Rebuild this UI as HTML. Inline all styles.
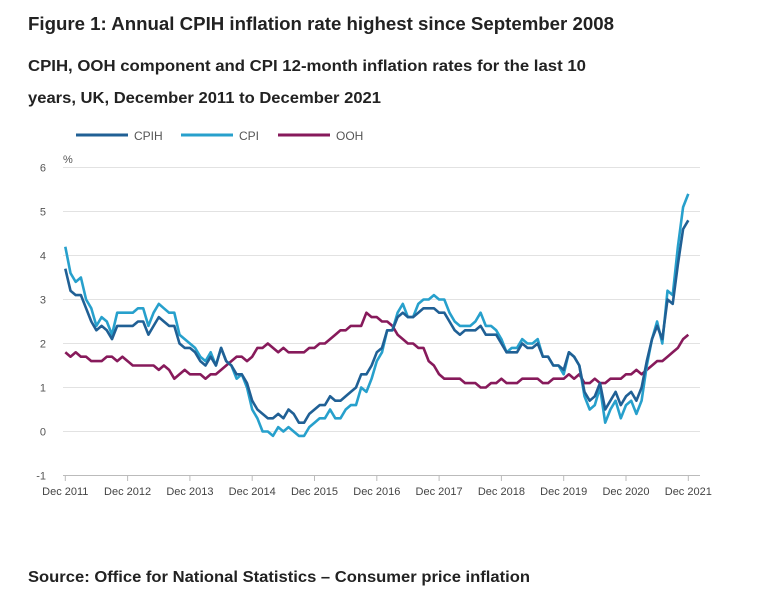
<!DOCTYPE html>
<html><head><meta charset="utf-8"><style>
body{margin:0;background:#fff;font-family:"Liberation Sans",sans-serif;}
svg{display:block}
</style></head><body>
<svg id="chart" width="773" height="591">
<text x="28" y="30" font-size="18" font-weight="bold" fill="#222" textLength="586" lengthAdjust="spacingAndGlyphs">Figure 1: Annual CPIH inflation rate highest since September 2008</text>
<text x="28" y="71" font-size="15.5" font-weight="bold" fill="#222" textLength="558" lengthAdjust="spacingAndGlyphs">CPIH, OOH component and CPI 12-month inflation rates for the last 10</text>
<text x="28" y="103" font-size="15.5" font-weight="bold" fill="#222" textLength="353" lengthAdjust="spacingAndGlyphs">years, UK, December 2011 to December 2021</text>
<g>
<line x1="76" y1="135" x2="128" y2="135" stroke="#206095" stroke-width="3"/>
<text x="134" y="140" font-size="12" fill="#555">CPIH</text>
<line x1="181" y1="135" x2="233" y2="135" stroke="#27a0cc" stroke-width="3"/>
<text x="239" y="140" font-size="12" fill="#555">CPI</text>
<line x1="278" y1="135" x2="330" y2="135" stroke="#871a5b" stroke-width="3"/>
<text x="336" y="140" font-size="12" fill="#555">OOH</text>
</g>
<text x="63" y="163" font-size="11" fill="#555">%</text>
<g id="grid"></g><g id="lines"></g>
<text x="28" y="582" font-size="15.5" font-weight="bold" fill="#222" textLength="502" lengthAdjust="spacingAndGlyphs">Source: Office for National Statistics – Consumer price inflation</text>
</svg>
<script>
const yTicks=[6,5,4,3,2,1,0,-1];
const xTickLabels=["Dec 2011","Dec 2012","Dec 2013","Dec 2014","Dec 2015","Dec 2016","Dec 2017","Dec 2018","Dec 2019","Dec 2020","Dec 2021"];
const cpih=[3.7,3.2,3.1,3.1,2.8,2.5,2.3,2.4,2.3,2.1,2.4,2.4,2.4,2.4,2.5,2.5,2.2,2.4,2.6,2.5,2.4,2.4,2.0,1.9,1.9,1.8,1.6,1.5,1.7,1.5,1.9,1.6,1.5,1.3,1.3,1.1,0.7,0.5,0.4,0.3,0.3,0.4,0.3,0.5,0.4,0.2,0.2,0.4,0.5,0.6,0.6,0.8,0.7,0.7,0.8,0.9,1.0,1.3,1.3,1.5,1.8,1.9,2.3,2.3,2.6,2.7,2.6,2.6,2.7,2.8,2.8,2.8,2.7,2.7,2.5,2.3,2.2,2.3,2.3,2.3,2.4,2.2,2.2,2.2,2.0,1.8,1.8,1.8,2.0,1.9,1.9,2.0,1.7,1.7,1.5,1.5,1.4,1.8,1.7,1.5,0.9,0.7,0.8,1.1,0.5,0.7,0.9,0.6,0.8,0.9,0.7,1.0,1.6,2.1,2.4,2.1,3.0,2.9,3.8,4.6,4.8];
const cpi=[4.2,3.6,3.4,3.5,3.0,2.8,2.4,2.6,2.5,2.2,2.7,2.7,2.7,2.7,2.8,2.8,2.4,2.7,2.9,2.8,2.7,2.7,2.2,2.1,2.0,1.9,1.7,1.6,1.8,1.5,1.9,1.6,1.5,1.2,1.3,1.0,0.5,0.3,0.0,0.0,-0.1,0.1,0.0,0.1,0.0,-0.1,-0.1,0.1,0.2,0.3,0.3,0.5,0.3,0.3,0.5,0.6,0.6,1.0,0.9,1.2,1.6,1.8,2.3,2.3,2.7,2.9,2.6,2.6,2.9,3.0,3.0,3.1,3.0,3.0,2.7,2.5,2.4,2.4,2.4,2.5,2.7,2.4,2.4,2.3,2.1,1.8,1.9,1.9,2.1,2.0,2.0,2.1,1.7,1.7,1.5,1.5,1.3,1.8,1.7,1.5,0.8,0.5,0.6,1.0,0.2,0.5,0.7,0.3,0.6,0.7,0.4,0.7,1.5,2.1,2.5,2.0,3.2,3.1,4.2,5.1,5.4];
const ooh=[1.8,1.7,1.8,1.7,1.7,1.6,1.6,1.6,1.7,1.7,1.6,1.7,1.6,1.5,1.5,1.5,1.5,1.5,1.4,1.5,1.4,1.2,1.3,1.4,1.3,1.3,1.3,1.2,1.3,1.3,1.4,1.5,1.6,1.7,1.7,1.6,1.7,1.9,1.9,2.0,1.9,1.8,1.9,1.8,1.8,1.8,1.8,1.9,1.9,2.0,2.0,2.1,2.2,2.3,2.3,2.4,2.4,2.4,2.7,2.6,2.6,2.5,2.5,2.4,2.2,2.1,2.0,2.0,1.9,1.9,1.6,1.5,1.3,1.2,1.2,1.2,1.2,1.1,1.1,1.1,1.0,1.0,1.1,1.1,1.2,1.1,1.1,1.1,1.2,1.2,1.2,1.2,1.1,1.1,1.2,1.2,1.2,1.3,1.2,1.3,1.1,1.1,1.2,1.1,1.1,1.2,1.2,1.2,1.3,1.3,1.4,1.3,1.4,1.5,1.6,1.6,1.7,1.8,1.9,2.1,2.2];
const NS="http://www.w3.org/2000/svg";
const x0=65.3,x1=688.3,nM=120;
function xs(i){return x0+(x1-x0)*i/nM;}
function ys(v){return 431.5-v*44;}
const grid=document.getElementById('grid');
yTicks.forEach(t=>{
  const l=document.createElementNS(NS,'line');
  l.setAttribute('x1',63);l.setAttribute('x2',700);l.setAttribute('y1',ys(t));l.setAttribute('y2',ys(t));
  l.setAttribute('stroke',t===-1?'#bbb':'#e2e2e2');l.setAttribute('stroke-width',1);
  
  
  grid.appendChild(l);
  const tx=document.createElementNS(NS,'text');
  tx.setAttribute('x',46);tx.setAttribute('y',ys(t)+4);tx.setAttribute('font-size',11);tx.setAttribute('fill','#555');tx.setAttribute('text-anchor','end');
  tx.textContent=t;
  
  
  grid.appendChild(tx);
});
xTickLabels.forEach((s,i)=>{
  const x=xs(i*12);
  const l=document.createElementNS(NS,'line');
  l.setAttribute('x1',x);l.setAttribute('x2',x);l.setAttribute('y1',475);l.setAttribute('y2',481);l.setAttribute('stroke','#bbb');
  
  
  grid.appendChild(l);
  const tx=document.createElementNS(NS,'text');
  tx.setAttribute('x',x);tx.setAttribute('y',495);tx.setAttribute('font-size',11);tx.setAttribute('fill','#444');tx.setAttribute('text-anchor','middle');
  tx.textContent=s;
  
  
  grid.appendChild(tx);
});
const lines=document.getElementById('lines');
[[ooh,'#871a5b','ooh-line'],[cpi,'#27a0cc','cpi-line'],[cpih,'#206095','cpih-line']].forEach(([d,c,n])=>{
  const p=document.createElementNS(NS,'polyline');
  p.setAttribute('points',d.map((v,i)=>xs(i).toFixed(1)+','+ys(v).toFixed(1)).join(' '));
  p.setAttribute('fill','none');p.setAttribute('stroke',c);p.setAttribute('stroke-width',2.6);p.setAttribute('stroke-linejoin','round');
  
  
  lines.appendChild(p);
});
</script>
</body></html>
